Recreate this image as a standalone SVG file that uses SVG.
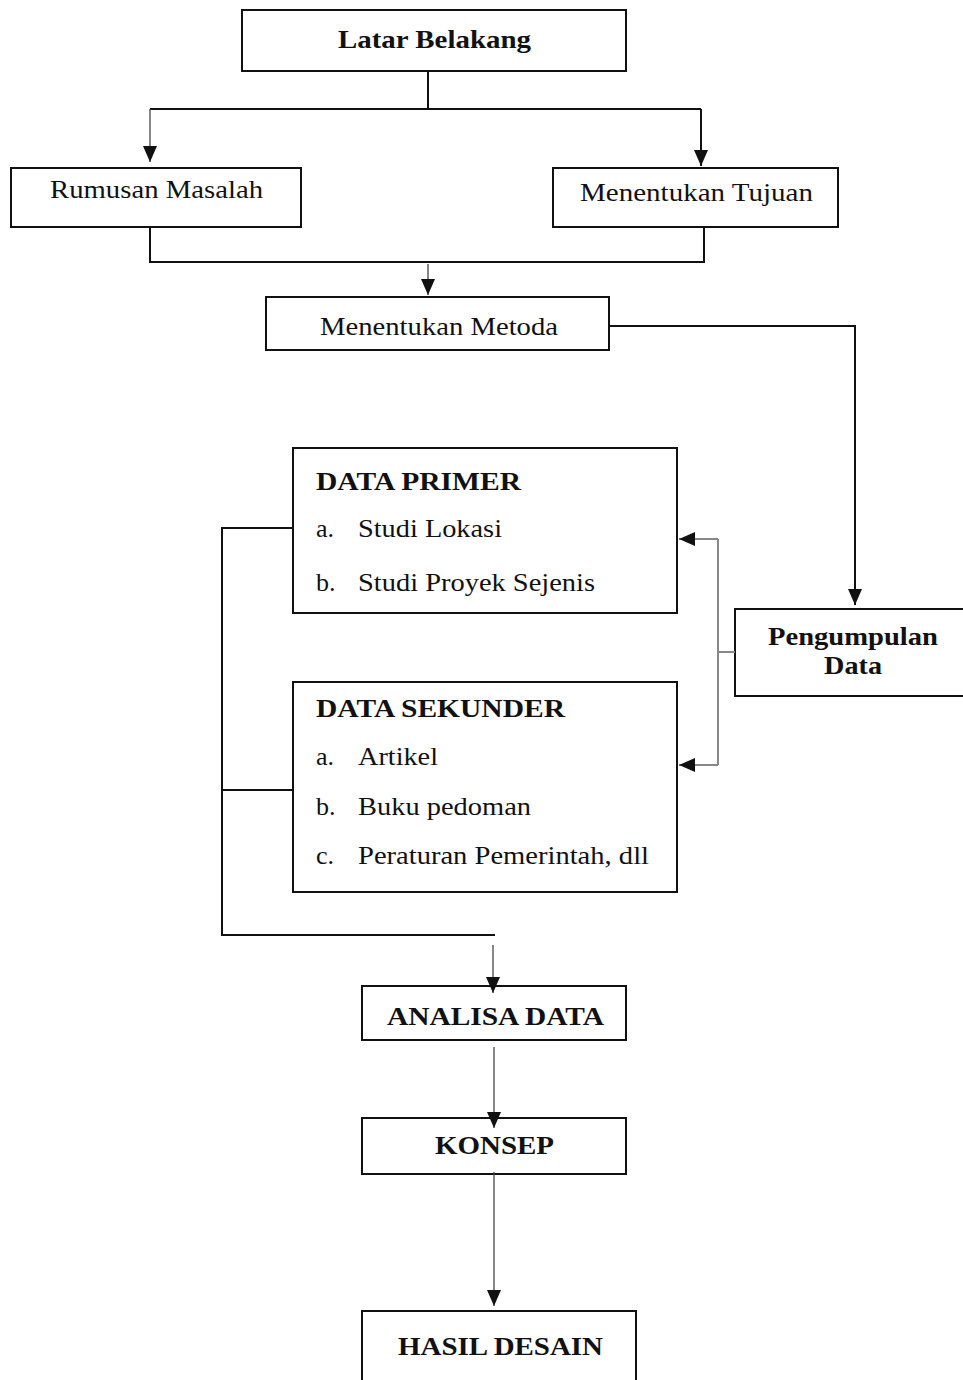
<svg xmlns="http://www.w3.org/2000/svg" width="963" height="1380" viewBox="0 0 963 1380">
<style>
.box{fill:#fff;stroke:#111;stroke-width:2}
.t{font-family:"Liberation Serif",serif;font-size:26px;fill:#111}
.b{font-weight:bold}
.c{fill:none;stroke:#111;stroke-width:2}
.g{fill:none;stroke:#888;stroke-width:2}
.thin{fill:none;stroke:#444;stroke-width:1.3}
</style>
<defs>
<marker id="ah" markerUnits="userSpaceOnUse" markerWidth="16" markerHeight="14" viewBox="0 0 16 14" refX="16" refY="7" orient="auto">
<path d="M0,0 L16,7 L0,14 Z" fill="#111"/>
</marker>
</defs>
<rect width="963" height="1380" fill="#fff"/>
<g id="latar">
<rect class="box" x="242" y="10" width="384" height="61"/>
<text class="t b" x="338" y="48" textLength="193" lengthAdjust="spacingAndGlyphs">Latar Belakang</text>
</g>
<g id="rumusan">
<rect class="box" x="11" y="168" width="290" height="59"/>
<text class="t" x="50" y="198" textLength="213" lengthAdjust="spacingAndGlyphs">Rumusan Masalah</text>
</g>
<g id="tujuan">
<rect class="box" x="553" y="168" width="285" height="59"/>
<text class="t" x="580" y="201" textLength="233" lengthAdjust="spacingAndGlyphs">Menentukan Tujuan</text>
</g>
<g id="metoda">
<rect class="box" x="266" y="297" width="343" height="53"/>
<text class="t" x="320" y="335" textLength="238" lengthAdjust="spacingAndGlyphs">Menentukan Metoda</text>
</g>
<g id="primer">
<rect class="box" x="293" y="448" width="384" height="165"/>
<text class="t b" x="316" y="490" textLength="205" lengthAdjust="spacingAndGlyphs">DATA PRIMER</text>
<text class="t" x="316" y="537" font-size="22">a.</text>
<text class="t" x="358" y="537" textLength="144" lengthAdjust="spacingAndGlyphs">Studi Lokasi</text>
<text class="t" x="316" y="591" font-size="22">b.</text>
<text class="t" x="358" y="591" textLength="237" lengthAdjust="spacingAndGlyphs">Studi Proyek Sejenis</text>
</g>
<g id="sekunder">
<rect class="box" x="293" y="682" width="384" height="210"/>
<text class="t b" x="316" y="717" textLength="249" lengthAdjust="spacingAndGlyphs">DATA SEKUNDER</text>
<text class="t" x="316" y="765" font-size="22">a.</text>
<text class="t" x="358" y="765" textLength="80" lengthAdjust="spacingAndGlyphs">Artikel</text>
<text class="t" x="316" y="815" font-size="22">b.</text>
<text class="t" x="358" y="815" textLength="173" lengthAdjust="spacingAndGlyphs">Buku pedoman</text>
<text class="t" x="316" y="864" font-size="22">c.</text>
<text class="t" x="358" y="864" textLength="291" lengthAdjust="spacingAndGlyphs">Peraturan Pemerintah, dll</text>
</g>
<g id="pengumpulan">
<rect class="box" x="735" y="609" width="235" height="87"/>
<text class="t b" x="768" y="645" textLength="170" lengthAdjust="spacingAndGlyphs">Pengumpulan</text>
<text class="t b" x="824" y="674" textLength="58" lengthAdjust="spacingAndGlyphs">Data</text>
</g>
<g id="analisa">
<rect class="box" x="362" y="986" width="264" height="54"/>
<text class="t b" x="387" y="1025" textLength="217" lengthAdjust="spacingAndGlyphs">ANALISA DATA</text>
</g>
<g id="konsep">
<rect class="box" x="362" y="1118" width="264" height="56"/>
<text class="t b" x="435" y="1154" textLength="119" lengthAdjust="spacingAndGlyphs">KONSEP</text>
</g>
<g id="hasil">
<rect class="box" x="362" y="1311" width="274" height="80"/>
<text class="t b" x="398" y="1355" textLength="205" lengthAdjust="spacingAndGlyphs">HASIL DESAIN</text>
</g>
<g id="connectors">
<path class="c" d="M428,71 V109 M150,109 H701"/>
<path class="thin" d="M150,109 V162" marker-end="url(#ah)"/>
<path class="c" d="M701,109 V166" marker-end="url(#ah)"/>
<path class="c" d="M150,227 V262 H704 V227"/>
<path class="thin" d="M428,264 V295" marker-end="url(#ah)"/>
<path class="c" d="M609,326 H855 V605" marker-end="url(#ah)"/>
<path class="g" d="M735,652 H718 M718,539 V765"/>
<path class="g" d="M718,539 H679" marker-end="url(#ah)"/>
<path class="g" d="M718,765 H679" marker-end="url(#ah)"/>
<path class="c" d="M293,528 H222 V935 H495 M222,790 H293"/>
<path class="g" d="M493,945 V993" stroke-width="1.5" marker-end="url(#ah)"/>
<path class="thin" d="M494,1047 V1128" marker-end="url(#ah)"/>
<path class="thin" d="M494,1172 V1306" marker-end="url(#ah)"/>
</g>
</svg>
